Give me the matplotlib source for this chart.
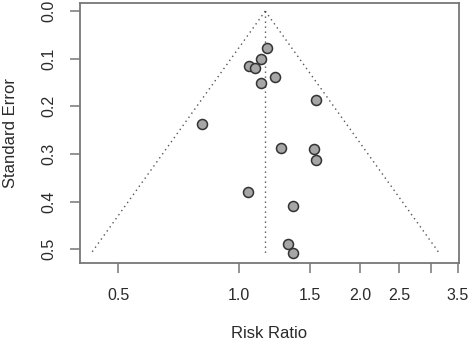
import numpy as np
import matplotlib
matplotlib.use("Agg")
import matplotlib.pyplot as plt
from matplotlib.ticker import FixedLocator, FixedFormatter, NullLocator

plt.rcParams['font.family'] = ['Liberation Sans', 'DejaVu Sans']

# Data
risk_ratio = [1.174, 1.132, 1.059, 1.096, 1.231, 1.132, 1.554, 0.809,
              1.272, 1.535, 1.554, 1.051, 1.357, 1.326, 1.357]
std_error = [0.077, 0.101, 0.116, 0.120, 0.139, 0.151, 0.187, 0.237,
             0.287, 0.289, 0.312, 0.380, 0.410, 0.490, 0.508]
pooled_rr = 1.161
x_ticks = [0.5, 1.0, 1.5, 2.0, 2.5, 3.0, 3.5]
x_tick_labels = ["0.5", "1.0", "1.5", "2.0", "2.5", "", "3.5"]
y_ticks = [0.0, 0.1, 0.2, 0.3, 0.4, 0.5]
y_tick_labels = ["0.0", "0.1", "0.2", "0.3", "0.4", "0.5"]

fig = plt.figure(figsize=(4.72, 3.45), dpi=100)
W, H = 472, 345
ax = fig.add_axes([80 / W, (H - 263) / H, (459 - 80) / W, (263 - 3) / H])

se_max = max(std_error)
se_line = np.array([0.0, se_max])
ln_c = np.log(pooled_rr)
dot = (0, (1, 2.6))
lc = '#555555'
ax.plot(np.exp(ln_c - 1.96 * se_line), se_line, color=lc, lw=1.0, ls=dot)
ax.plot(np.exp(ln_c + 1.96 * se_line), se_line, color=lc, lw=1.0, ls=dot)
ax.plot([pooled_rr, pooled_rr], [0.0, se_max], color=lc, lw=1.0, ls=dot)

ax.plot(risk_ratio, std_error, ls='none', marker='o', ms=7.2,
        mfc='#a6a6a6', mec='#333333', mew=1.1, zorder=3)

ax.set_xscale('log')
ax.set_xlim(0.402, 3.52)
ax.set_ylim(0.529, -0.017)

ax.xaxis.set_major_locator(FixedLocator(x_ticks))
ax.xaxis.set_major_formatter(FixedFormatter(x_tick_labels))
ax.xaxis.set_minor_locator(NullLocator())
ax.yaxis.set_major_locator(FixedLocator(y_ticks))
ax.yaxis.set_major_formatter(FixedFormatter(y_tick_labels))

for s in ax.spines.values():
    s.set_color('#777777')
    s.set_linewidth(1.3)

ax.tick_params(axis='both', which='major', length=7.2, width=1.1,
               color='#777777', labelsize=11.5, labelcolor='#2a2a2a')
ax.tick_params(axis='x', pad=10.5)
ax.tick_params(axis='y', pad=9.5)
for lab in ax.get_yticklabels():
    lab.set_rotation(90)
    lab.set_va('center')

ax.set_xlabel("Risk Ratio", fontsize=12, color='#2a2a2a')
ax.set_ylabel("Standard Error", fontsize=12, color='#2a2a2a')
ax.xaxis.set_label_coords(0.5, (263 - 326) / 260)
ax.yaxis.set_label_coords((18 - 80) / 379, 0.5)

fig.savefig("out.png", dpi=100)
